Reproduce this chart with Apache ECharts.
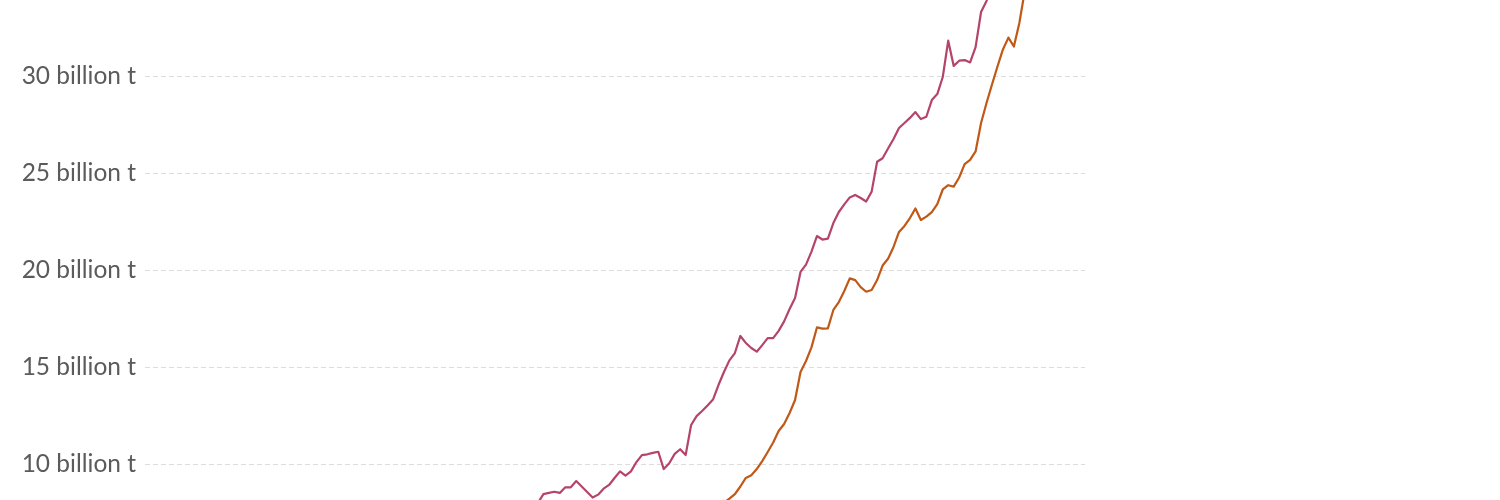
<!DOCTYPE html>
<html>
<head>
<meta charset="utf-8">
<script src="https://cdn.jsdelivr.net/npm/echarts@6/dist/echarts.min.js"></script>
<style>
html,body{margin:0;padding:0;background:#fff;overflow:hidden;width:1500px;height:500px;}
#chart{position:absolute;left:0;top:-21px;width:1500px;height:582px;}
</style>
</head>
<body>
<div id="chart"></div>
<script>
// y-axis tick labels (values in billion tonnes)
const yTicks = [5, 10, 15, 20, 25, 30, 35];
const yUnit = ' billion t';

// Pink series: yearly values starting at pinkStartYear
const pinkStartYear = 1920;
const pinkValues = [
  8.00, 8.45, 8.51, 8.57, 8.51, 8.80, 8.80, 9.12, 8.84, 8.56,
  8.27, 8.42, 8.73, 8.92, 9.28, 9.62, 9.40, 9.62, 10.10, 10.46,
  10.50, 10.57, 10.63, 9.74, 10.04, 10.52, 10.76, 10.46, 12.01, 12.47,
  12.73, 13.02, 13.32, 14.07, 14.74, 15.34, 15.72, 16.60, 16.24, 15.98,
  15.79, 16.13, 16.49, 16.49, 16.86, 17.35, 17.99, 18.56, 19.90, 20.28,
  20.95, 21.75, 21.57, 21.62, 22.42, 22.99, 23.38, 23.74, 23.87, 23.71,
  23.53, 24.04, 25.58, 25.76, 26.26, 26.75, 27.32, 27.58, 27.84, 28.14,
  27.78, 27.90, 28.76, 29.07, 29.95, 31.82, 30.52, 30.79, 30.82, 30.70,
  31.49, 33.30, 33.87, 34.50
];

// Orange series: yearly values starting at orangeStartYear
const orangeStartYear = 1954;
const orangeValues = [
  8.01, 8.22, 8.45, 8.84, 9.28, 9.42, 9.74, 10.15, 10.62, 11.11,
  11.70, 12.06, 12.63, 13.30, 14.74, 15.31, 16.01, 17.04, 16.98, 16.99,
  17.94, 18.35, 18.92, 19.57, 19.48, 19.12, 18.88, 18.97, 19.48, 20.23,
  20.58, 21.19, 21.96, 22.27, 22.68, 23.17, 22.58, 22.75, 22.98, 23.40,
  24.15, 24.37, 24.30, 24.77, 25.46, 25.68, 26.11, 27.58, 28.61, 29.56,
  30.49, 31.37, 31.98, 31.52, 32.73, 34.40
];

const firstYear = 1850;
const lastYear = 2020;

function toPairs(start, vals) {
  return vals.map((v, i) => [start + i, v]);
}

const chart = echarts.init(document.getElementById('chart'), null, {renderer: 'canvas'});
chart.setOption({
  animation: false,
  backgroundColor: '#ffffff',
  grid: {left: 145, right: 415, top: 0, bottom: 0, containLabel: false, outerBoundsMode: 'none'},
  xAxis: {
    type: 'value',
    min: firstYear - 10 / 5.4706,
    max: lastYear,
    show: false
  },
  yAxis: {
    type: 'value',
    min: yTicks[0],
    max: yTicks[yTicks.length - 1],
    interval: 5,
    axisLine: {show: false},
    axisTick: {show: false},
    axisLabel: {
      formatter: v => v + yUnit,
      color: '#5b5b5b',
      fontFamily: 'Lato',
      fontSize: 24.5,
      margin: 9
    },
    splitLine: {lineStyle: {color: '#dcdcdc', width: 1, type: [5, 3]}}
  },
  series: [
    {
      type: 'line',
      name: 'pink',
      data: toPairs(pinkStartYear, pinkValues),
      showSymbol: false,
      symbol: 'none',
      lineStyle: {color: '#b5446b', width: 2.2, join: 'round'},
      clip: true
    },
    {
      type: 'line',
      name: 'orange',
      data: toPairs(orangeStartYear, orangeValues),
      showSymbol: false,
      symbol: 'none',
      lineStyle: {color: '#c05917', width: 2.2, join: 'round'},
      clip: true
    }
  ]
});
</script>
</body>
</html>
